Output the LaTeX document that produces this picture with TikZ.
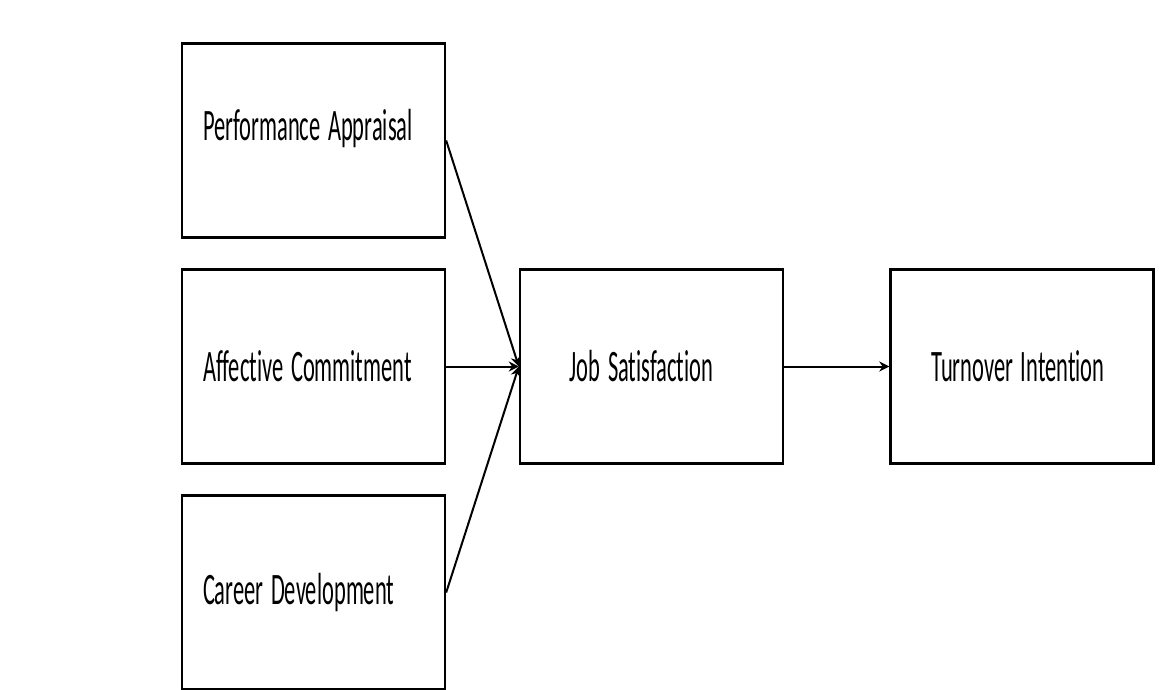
\documentclass[tikz,border=0pt]{standalone}
\usepackage{fontspec}
\usepackage{tikz}
\usetikzlibrary{arrows.meta}
\newfontfamily\boxfont[Ligatures=NoCommon]{Carlito}
\newcommand{\narrowtext}[1]{\scalebox{0.5}[1]{#1}}

\tikzset{
    factor/.style={draw,line width=1.2pt,minimum height=97pt,text width=110.5pt,inner xsep=10.5pt,align=left,font=\boxfont\fontsize{22.5}{26}\selectfont},
    outcome/.style={draw,line width=1.2pt,minimum height=97pt,text width=121.5pt,inner xsep=5pt,align=center,font=\boxfont\fontsize{22.5}{26}\selectfont},
    link/.style={line width=1pt,-{Stealth[length=5pt,width=5pt]}}
}

\begin{document}
\begin{tikzpicture}[x=0.5pt,y=-0.5pt]
    \useasboundingbox (0,0) rectangle (1167,690);
    \node[factor] (pa) at (313.5,140.5) {\raisebox{16pt}{\narrowtext{Performance Appraisal}}};
    \node[factor] (ac) at (313.5,366.5) {\narrowtext{Affective Commitment}};
    \node[factor] (cd) at (313.5,592.5) {\narrowtext{Career Development}};
    \node[outcome] (js) at (651.5,366.5) {\hspace*{-10pt}\narrowtext{Job Satisfaction}};
    \node[outcome] (ti) at (1022,366.5) {\hspace*{-4pt}\narrowtext{Turnover Intention}};
    \draw[link] (pa.east) -- (js.west);
    \draw[link] (ac.east) -- (js.west);
    \draw[link] (cd.east) -- (js.west);
    \draw[link] (js.east) -- (ti.west);
\end{tikzpicture}
\end{document}
